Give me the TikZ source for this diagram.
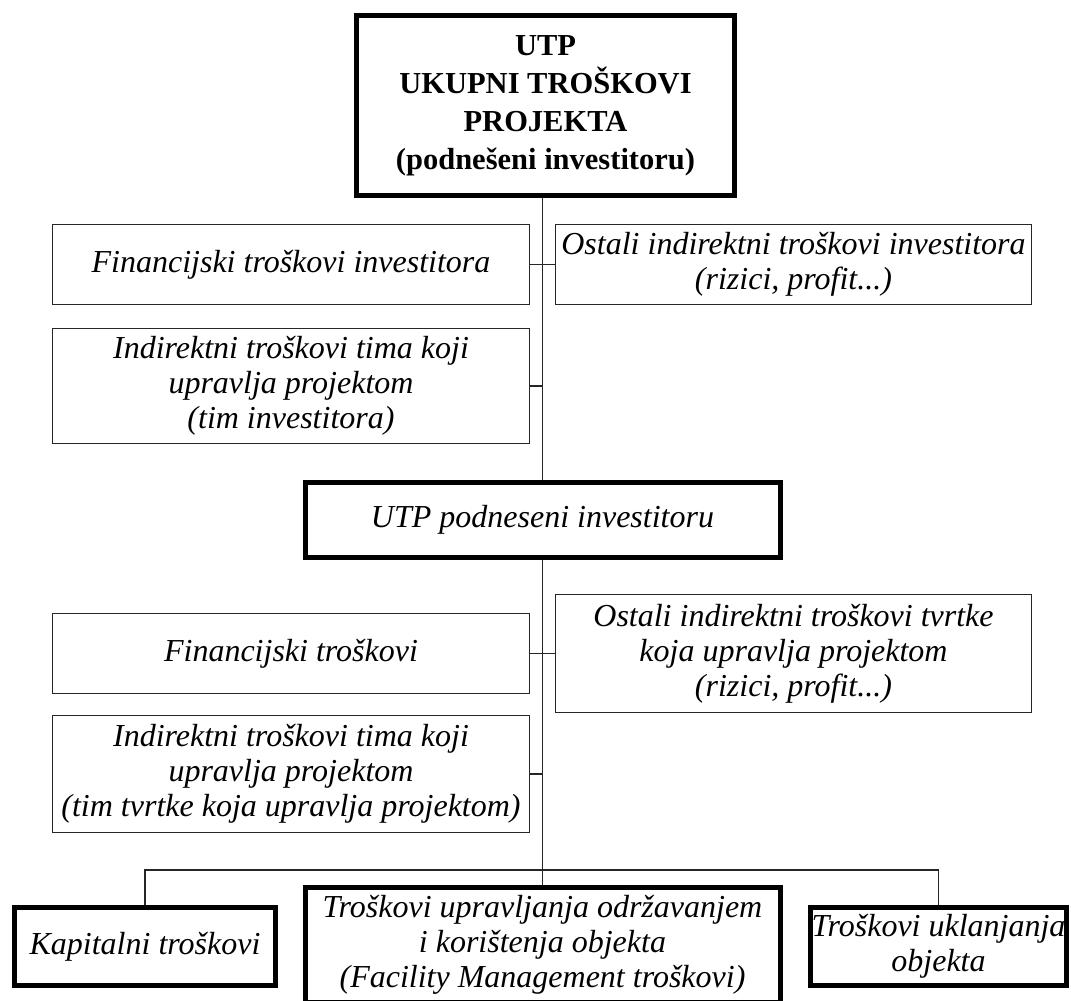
\documentclass[tikz,border=0pt]{standalone}
\usepackage{fontspec}
\setmainfont{Liberation Serif}

\tikzset{
    costbox/.style={draw=black!85, line width=1.2pt, align=center,
        inner sep=0pt, font=\fontsize{32}{35}\selectfont\itshape},
    mainbox/.style={costbox, line width=5pt, draw=black},
    link/.style={draw=black!85, line width=1.2pt}
}

\begin{document}
\begin{tikzpicture}[x=1pt, y=-1pt]
        \useasboundingbox (0,0) rectangle (1071,1001);

        % vrh
        \node[mainbox, minimum width=378, minimum height=180,
            font=\fontsize{30.5}{38}\selectfont\bfseries] (utp) at (545.5,105.5)
            {UTP\\UKUPNI TROŠKOVI\\PROJEKTA\\(podnešeni investitoru)};

        \node[costbox, minimum width=477, minimum height=80] (fininv) at (291,264.5)
            {Financijski troškovi investitora};
        \node[costbox, minimum width=476, minimum height=80] (ostinv) at (793.5,264.5)
            {Ostali indirektni troškovi investitora\\(rizici, profit...)};
        \node[costbox, minimum width=477, minimum height=115] (timinv) at (291,386)
            {Indirektni troškovi tima koji\\upravlja projektom\\(tim investitora)};

        % sredina
        \node[mainbox, minimum width=475, minimum height=75] (utppod) at (542.5,520)
            {UTP podneseni investitoru};

        \node[costbox, minimum width=477, minimum height=80] (fintvr) at (291,653.5)
            {Financijski troškovi};
        \node[costbox, minimum width=476, minimum height=118] (osttvr) at (793.5,653.5)
            {Ostali indirektni troškovi tvrtke\\koja upravlja projektom\\(rizici, profit...)};
        \node[costbox, minimum width=477, minimum height=117] (timtvr) at (291,774)
            {Indirektni troškovi tima koji\\upravlja projektom\\(tim tvrtke koja upravlja projektom)};

        % dno
        \node[mainbox, minimum width=261, minimum height=78] (kap) at (145,946.5)
            {Kapitalni troškovi};
        \node[mainbox, minimum width=475, minimum height=115] (fm) at (542.5,945)
            {Troškovi upravljanja održavanjem\\i korištenja objekta\\(Facility Management troškovi)};
        \node[mainbox, minimum width=256, minimum height=78] (ukl) at (938.5,946.5)
            {Troškovi uklanjanja\\objekta};

        \coordinate (bus) at (542.5,870);

        \draw[link] (utppod.north |- utp.south) -- (utppod.north);
        \draw[link] (fininv.east) -- (ostinv.west);
        \draw[link] (timinv.east) -- (timinv.east -| utppod.north);
        \draw[link] (utppod.south) -- (fm.north);
        \draw[link] (fintvr.east) -- (osttvr.west);
        \draw[link] (timtvr.east) -- (timtvr.east -| utppod.south);
        \draw[link] (kap.north) |- (bus) -| (ukl.north);
    \end{tikzpicture}
\end{document}
